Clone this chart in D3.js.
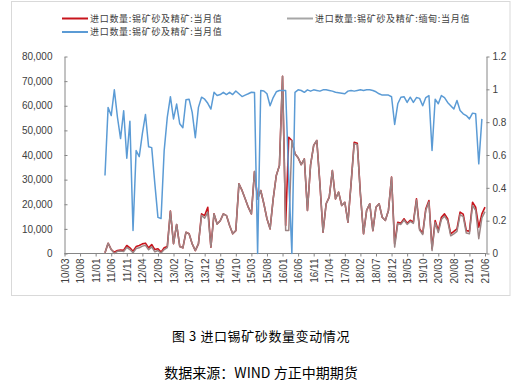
<!DOCTYPE html>
<html>
<head>
	<meta charset="utf-8">
	<script src="https://d3js.org/d3.v7.min.js"></script>
	<style>
		body { margin: 0; background: #fff; }
	</style>
</head>
<body>
	<script type="text/javascript">
		// month index 0 = 2010/03, data starts at index 13 (2011/04)
		var firstIndex = 13;
		var lastIndex = 135;

		var tickLabels = ["10/03","10/08","11/01","11/06","11/11","12/04","12/09","13/02","13/07","13/12",
			"14/05","14/10","15/03","15/08","16/01","16/06","16/11","17/04","17/09","18/02",
			"18/07","18/12","19/05","19/10","20/03","20/08","21/01","21/06"];

		var leftTicks = [0, 10000, 20000, 30000, 40000, 50000, 60000, 70000, 80000];
		var rightTicks = [0, 0.2, 0.4, 0.6, 0.8, 1, 1.2];

		var seriesNames = ["进口数量:锡矿砂及精矿:当月值", "进口数量:锡矿砂及精矿:缅甸:当月值", "进口数量:锡矿砂及精矿:当月值"];

		// total imports (red), tonnes
		var totalImports = [300, 4180, 1620, 500, 1200, 1450, 1300, 3250, 2300, 900,
			2800, 3250, 3900, 4200, 2300, 3650, 1600, 1900, 550, 2300,
			2800, 17200, 4000, 11800, 2850, 2300, 8650, 8000, 3900, 1200,
			3900, 16100, 15400, 18800, 2600, 16100, 12000, 13300, 16100, 15400,
			11400, 8000, 9300, 28300, 25600, 22200, 18800, 16100, 33300, 22200,
			25600, 20200, 14100, 10000, 22200, 31700, 35700, 72000, 11400, 47200,
			45900, 40500, 38900, 36100, 38400, 17500, 36000, 43900, 45900, 28300,
			8650, 20200, 22900, 33700, 22200, 24900, 19500, 20800, 12700, 28300,
			45200, 44800, 24200, 8000, 17500, 20200, 9300, 18800, 20200, 14700,
			13400, 17500, 31000, 4000, 12700, 12300, 14100, 12300, 13500, 12700,
			22200, 10000, 8200, 18200, 21500, 2000, 13400, 9300, 14700, 16100,
			14100, 8000, 9000, 10000, 16800, 16000, 9300, 9000, 20800, 18800,
			10700, 16100, 18800];

		// imports from Myanmar (gray)
		var myanmarImports = [300, 4180, 1620, 0, 900, 1000, 800, 2500, 1600, 300,
			2000, 2300, 3000, 3300, 1500, 2700, 700, 1200, 200, 1600,
			2400, 17200, 4000, 11800, 2850, 2300, 8650, 8000, 3900, 1200,
			3900, 15500, 14300, 16800, 2600, 16100, 12000, 13300, 16100, 15400,
			11400, 8000, 9300, 28300, 25600, 22200, 18800, 16100, 33300, 22200,
			25600, 20200, 14100, 10000, 22200, 31700, 35700, 72000, 9300, 9300,
			45900, 40500, 38900, 36100, 38400, 17500, 36000, 43900, 45900, 28300,
			8650, 20200, 22900, 33700, 22200, 24900, 19500, 20800, 12700, 28300,
			44600, 44200, 24200, 8000, 17500, 20200, 9300, 18800, 20200, 14700,
			13400, 17500, 31000, 2600, 12200, 11800, 13600, 11800, 13000, 12200,
			21700, 9500, 7700, 17600, 20900, 1200, 12600, 8500, 13800, 15200,
			13300, 7200, 8000, 9000, 15800, 15000, 8300, 8000, 19500, 17500,
			6000, 14500, 17000];

		// Myanmar share (blue, right axis), ends one month earlier
		var myanmarShare = [0.475, 0.89, 0.84, 0.997, 0.83, 0.70, 0.87, 0.58, 0.806, 0.14,
			0.627, 0.59, 0.73, 0.847, 0.65, 0.645, 0.426, 0.22, 0.213, 0.627,
			0.83, 0.955, 0.82, 0.91, 0.79, 0.766, 0.936, 0.94, 0.86, 0.705,
			0.89, 0.952, 0.94, 0.915, 0.88, 0.982, 0.962, 0.968, 0.982, 0.968,
			0.982, 0.968, 0.99, 0.973, 0.956, 0.965, 0.973, 0.982, 0.98, 0,
			0.993, 0.99, 0.973, 0.90, 0.95, 0.985, 0.993, 0.993, 0.993, 0.45,
			0, 0.982, 0.997, 0.993, 0.982, 0.997, 0.989, 0.997, 0.993, 0.989,
			0.997, 0.997, 0.993, 0.989, 0.982, 0.979, 0.976, 0.973, 0.989, 0.993,
			0.989, 0.993, 0.997, 0.993, 0.997, 0.997, 0.993, 0.985, 0.973, 0.965,
			0.965, 0.965, 0.955, 0.786, 0.912, 0.952, 0.955, 0.92, 0.952, 0.92,
			0.95, 0.945, 0.90, 0.95, 0.962, 0.627, 0.94, 0.912, 0.962, 0.95,
			0.92, 0.90, 0.88, 0.932, 0.871, 0.851, 0.84, 0.82, 0.855, 0.851,
			0.546, 0.82];

		var width = 522;
		var height = 387;

		var svg = d3.select('body').append('svg')
			.attr('width', width)
			.attr('height', height);

		// frame
		svg.append('rect')
			.attr('x', 11.5).attr('y', 1.5)
			.attr('width', 498.5).attr('height', 294)
			.attr('fill', '#fff')
			.attr('stroke', '#d9d9d9');

		var x = d3.scaleLinear().domain([0, lastIndex]).range([64.5, 485]);
		var yLeft = d3.scaleLinear().domain([0, 80000]).range([253.5, 56.5]);
		var yRight = d3.scaleLinear().domain([0, 1.2]).range([253.5, 56.5]);

		var axisColor = '#868686';
		var textColor = '#404040';

		// left axis
		var gLeft = svg.append('g')
			.attr('transform', 'translate(64.5,0)')
			.call(d3.axisLeft(yLeft).tickValues(leftTicks).tickSizeInner(-3).tickSizeOuter(0)
				.tickPadding(12).tickFormat(d3.format(',')));

		// right axis
		var gRight = svg.append('g')
			.attr('transform', 'translate(486.5,0)')
			.call(d3.axisRight(yRight).tickValues(rightTicks).tickSizeInner(3).tickSizeOuter(0)
				.tickPadding(3).tickFormat(function(d){ return d3.format('~g')(d); }));

		// bottom axis
		var tickIdx = tickLabels.map(function(d, i){ return i * 5; });
		var gBottom = svg.append('g')
			.attr('transform', 'translate(0,253.5)')
			.call(d3.axisBottom(x).tickValues(tickIdx).tickSizeInner(3).tickSizeOuter(0)
				.tickFormat(function(d, i){ return tickLabels[i]; }));
		gBottom.select('.domain').attr('d', 'M64.5,0H486.5');

		gBottom.selectAll('text')
			.attr('transform', 'rotate(-90)')
			.attr('text-anchor', 'end')
			.attr('x', -5)
			.attr('y', 0)
			.attr('dy', '0.35em');

		[gLeft, gRight, gBottom].forEach(function(g){
			g.selectAll('path, line').attr('stroke', axisColor);
			g.selectAll('text')
				.attr('fill', textColor)
				.style('font-family', '"Liberation Sans", Arial, sans-serif')
				.style('font-size', '10px');
		});

		function toPoints(values) {
			return values.map(function(v, i){ return { i: firstIndex + i, v: v }; });
		}

		var lineLeft = d3.line()
			.x(function(d){ return x(d.i); })
			.y(function(d){ return yLeft(d.v); });

		var lineRight = d3.line()
			.x(function(d){ return x(d.i); })
			.y(function(d){ return yRight(d.v); });

		var red = '#c8141c';
		var gray = '#9c8484';
		var blue = '#5b9bd5';

		svg.append('path')
			.datum(toPoints(totalImports))
			.attr('d', lineLeft)
			.attr('fill', 'none')
			.attr('stroke', red)
			.attr('stroke-width', 1.6)
			.attr('stroke-linejoin', 'round');

		svg.append('path')
			.datum(toPoints(myanmarImports))
			.attr('d', lineLeft)
			.attr('fill', 'none')
			.attr('stroke', gray)
			.attr('stroke-width', 1.5)
			.attr('stroke-linejoin', 'round');

		svg.append('path')
			.datum(toPoints(myanmarShare))
			.attr('d', lineRight)
			.attr('fill', 'none')
			.attr('stroke', blue)
			.attr('stroke-width', 1.5)
			.attr('stroke-linejoin', 'round');

		// legend
		var legendItems = [
			{ name: seriesNames[0], color: red, x: 62, y: 18.5 },
			{ name: seriesNames[2], color: blue, x: 62, y: 32 },
			{ name: seriesNames[1], color: '#a6a6a6', x: 287, y: 18.5 }
		];
		var legend = svg.selectAll('.legend')
			.data(legendItems)
			.enter().append('g')
			.attr('class', 'legend')
			.attr('transform', function(d){ return 'translate(' + d.x + ',' + d.y + ')'; });
		legend.append('line')
			.attr('x1', 0).attr('x2', 26)
			.attr('stroke', function(d){ return d.color; })
			.attr('stroke-width', 2);
		legend.append('text')
			.attr('x', 28)
			.attr('dy', '0.35em')
			.attr('fill', textColor)
			.style('font-family', '"Noto Sans CJK SC", sans-serif')
			.style('font-size', '9px')
			.style('letter-spacing', '0.7px')
			.text(function(d){ return d.name; });

		// captions under the frame
		svg.append('text')
			.attr('x', 261).attr('y', 341)
			.attr('text-anchor', 'middle')
			.attr('fill', '#000')
			.style('font-family', '"Noto Sans CJK SC", sans-serif')
			.style('font-size', '13px')
			.style('letter-spacing', '0.6px')
			.text('图 3  进口锡矿砂数量变动情况');

		svg.append('text')
			.attr('x', 261).attr('y', 378)
			.attr('text-anchor', 'middle')
			.attr('fill', '#000')
			.style('font-family', '"Noto Sans CJK SC", sans-serif')
			.style('font-size', '14px')
			.text('数据来源：WIND 方正中期期货');
	</script>
</body>
</html>
